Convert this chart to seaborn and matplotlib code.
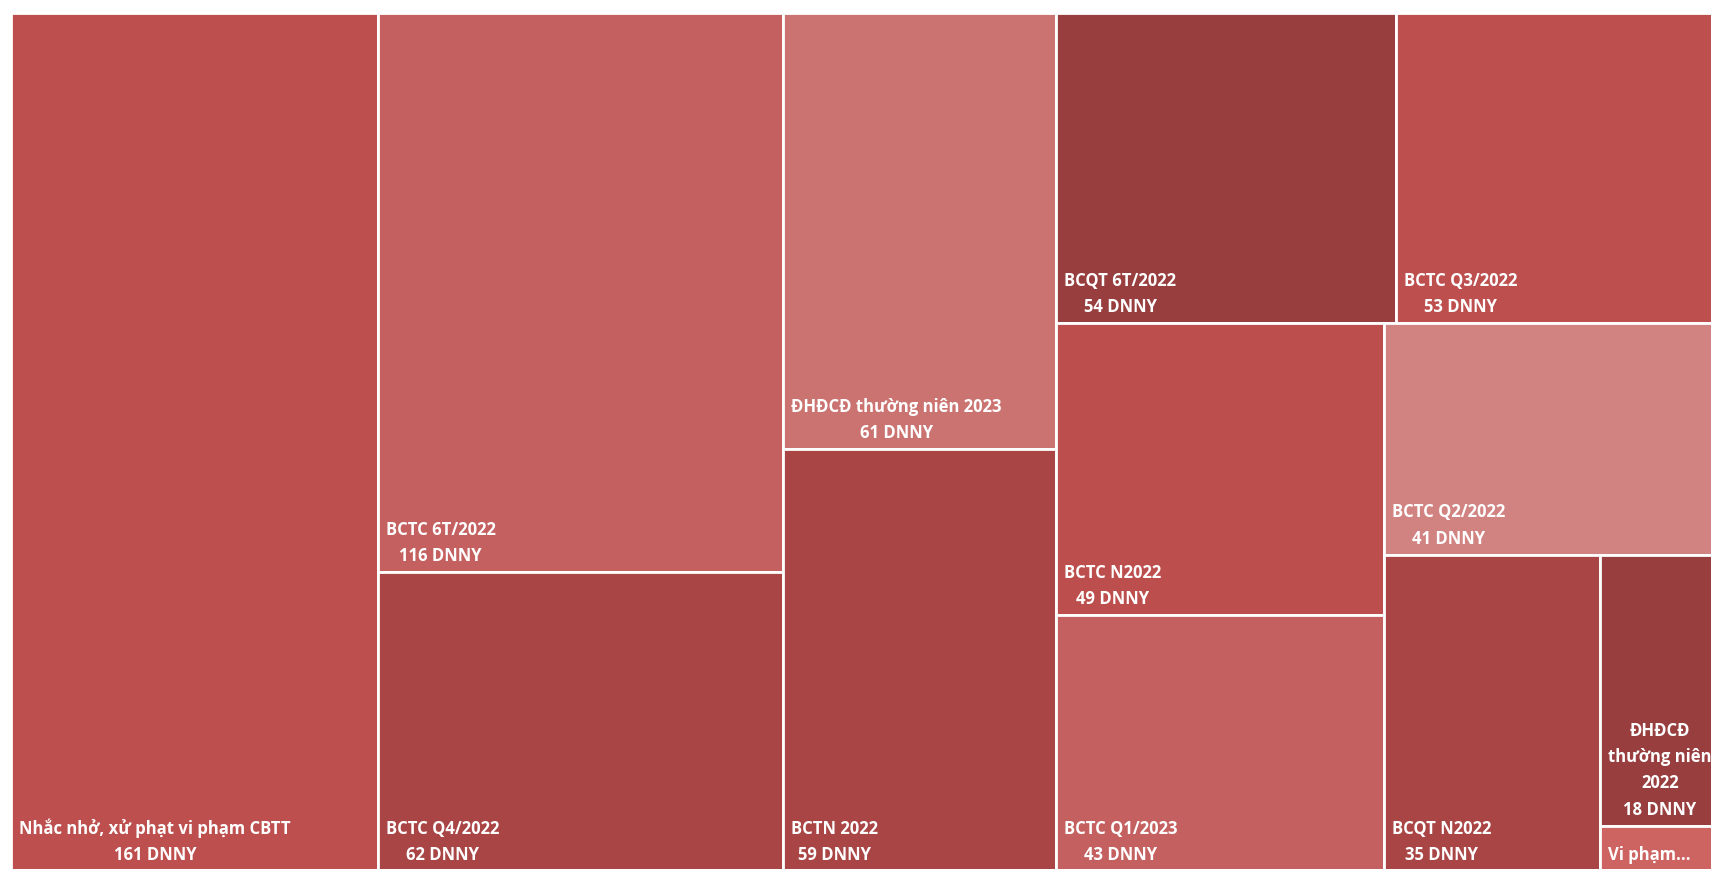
import textwrap
import matplotlib
matplotlib.use("Agg")
import matplotlib.pyplot as plt
from matplotlib.patches import Rectangle
import seaborn as sns

# data
names = ["Nhắc nhở, xử phạt vi phạm CBTT", "BCTC 6T/2022", "BCTC Q4/2022",
         "ĐHĐCĐ thường niên 2023", "BCTN 2022", "BCQT 6T/2022", "BCTC Q3/2022",
         "BCTC N2022", "BCTC Q1/2023", "BCTC Q2/2022", "BCQT N2022",
         "ĐHĐCĐ thường niên 2022", "Vi phạm..."]
counts = [161, 116, 62, 61, 59, 54, 53, 49, 43, 41, 35, 18, 3]
colors = ["#BD504E", "#C46060", "#A94545", "#CB7371", "#A94545", "#983E3E",
          "#BD504E", "#BC4F4D", "#C46060", "#D18381", "#A94545", "#983E3E",
          "#CD6462"]
unit = "DNNY"


def worst_ratio(row, side, scale):
    thick = sum(row) * scale / side
    return max(max(thick / (v * scale / thick), (v * scale / thick) / thick) for v in row)


def treemap(values, x, y, w, h, limit=2.5):
    # squarified layout, but a strip stops growing once its cells are "square enough"
    scale = w * h / sum(values)
    rects = []
    i = 0
    while i < len(values):
        side = min(w, h)
        row = [values[i]]
        while (i + len(row) < len(values) and worst_ratio(row, side, scale) > limit
               and worst_ratio(row + [values[i + len(row)]], side, scale) < worst_ratio(row, side, scale)):
            row.append(values[i + len(row)])
        thick = sum(row) * scale / side
        pos = 0
        for v in row:
            length = v * scale / thick
            if w >= h:
                rects.append((x, y + pos, thick, length))
            else:
                rects.append((x + pos, y, length, thick))
            pos += length
        if w >= h:
            x += thick
            w -= thick
        else:
            y += thick
            h -= thick
        i += len(row)
    return rects


sns.set_theme(style="white")
plt.rcParams['font.family'] = ['Open Sans', 'DejaVu Sans']

fig = plt.figure(figsize=(17.11, 8.69), dpi=100)
ax = fig.add_axes([0, 0, 1, 1])
ax.set_xlim(0, 1711)
ax.set_ylim(869, 0)
ax.axis("off")

rects = treemap(counts, 11, 13, 1719, 858)

for (rx, ry, rw, rh), name, n, col in zip(rects, names, counts, colors):
    ax.add_patch(Rectangle((rx, ry), rw, rh, facecolor=col, edgecolor="white", linewidth=2.0))
    label = name if rw > 200 else textwrap.fill(name, 11)
    if rh > 60:
        label = f"{label}\n{n} {unit}"
    ax.text(rx + 8, ry + rh - 7, label, color="white", fontsize=12, fontweight="bold",
            ha="left", va="bottom", multialignment="center", linespacing=1.6)

fig.savefig("out.png", dpi=100)
